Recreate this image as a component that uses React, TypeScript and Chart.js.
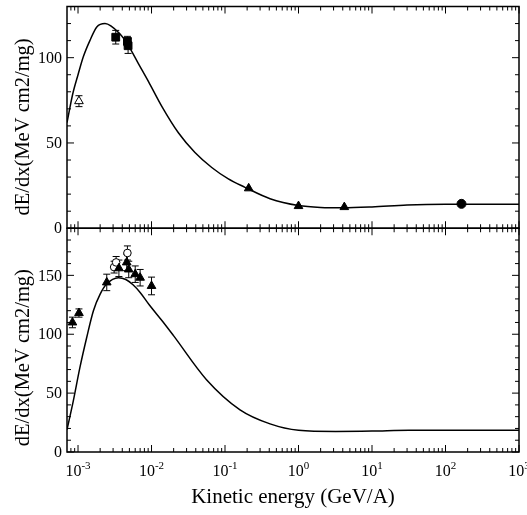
import React, { useEffect, useRef } from "react";
import { Chart, registerables } from "chart.js";
Chart.register(...registerables);

// ---------- data ----------
const xMin = 7.08e-4;
const xMax = 1000;
const yTopMax = 130;
const yBotMax = 190;
const xTickExponents = [-3, -2, -1, 0, 1, 2, 3];
const yTopLabels = [0, 50, 100];
const yBotLabels = [0, 50, 100, 150];
const xTitle = "Kinetic energy (GeV/A)";
const yTitle = "dE/dx(MeV cm2/mg)";

// top panel theory curve
const topCurveE = [7.08e-4, 8.5e-4, 1.0e-3, 1.18e-3, 1.45e-3, 1.8e-3, 2.33e-3, 3.7e-3, 4.8e-3, 6.6e-3, 9.1e-3, 1.38e-2, 2.32e-2, 3.9e-2, 6.6e-2, 0.111, 0.187, 0.41, 1.0, 2.0, 4.0, 10, 30, 100, 1000];
const topCurveV = [62, 79, 90, 100.5, 110, 118, 120, 114, 107.4, 96.7, 86, 71.5, 56, 44.4, 35.6, 28.9, 24, 17.3, 13.3, 12.2, 12, 12.5, 13.6, 14, 14];

// top panel measurements
const topOpenTriE = [1.03e-3];
const topOpenTriV = [74.5];
const topOpenTriErr = [3.2];
const topSquareE = [3.26e-3, 4.7e-3, 4.8e-3];
const topSquareV = [112, 109.5, 107];
const topSquareErr = [4, 3, 4.5];
const topTriE = [0.21, 1.0, 4.2];
const topTriV = [23.4, 13, 12.4];
const topCircleE = [165];
const topCircleV = [14.3];

// bottom panel theory curve
const botCurveE = [7.08e-4, 8.6e-4, 1.06e-3, 1.31e-3, 1.62e-3, 2.0e-3, 2.45e-3, 3.55e-3, 4.47e-3, 5.6e-3, 7.0e-3, 9.3e-3, 1.41e-2, 1.98e-2, 5.6e-2, 0.16, 0.41, 1.0, 3.2, 10, 32, 1000];
const botCurveV = [19, 43, 71.6, 97, 120, 134, 142.6, 148, 146.5, 142, 135.5, 125, 111, 99, 61.4, 35.8, 23.9, 18.5, 17.5, 17.8, 18.5, 18.5];

// bottom panel measurements
const botTriE = [8.4e-4, 1.03e-3, 2.46e-3, 3.6e-3, 4.6e-3, 4.9e-3, 6.0e-3, 7.0e-3, 1.0e-2];
const botTriV = [110, 118, 144, 156, 161, 155, 151, 148, 141];
const botTriErr = [4.5, 3.5, 7, 7, 7, 7, 7, 7, 7.5];
const botCircleE = [3.1e-3, 3.3e-3, 4.7e-3];
const botCircleV = [157, 161, 169];
const botCircleErr = [5, 5, 6];

const FONT = "'Liberation Serif', 'Times New Roman', serif";

const pts = (xs: number[], ys: number[]) => xs.map((x, i) => ({ x, y: ys[i] }));

const errorBarPlugin = {
  id: "errbars",
  beforeDatasetsDraw(chart: any) {
    const ctx = chart.ctx;
    const xs = chart.scales.x;
    chart.data.datasets.forEach((ds: any) => {
      const errs = ds.errs;
      if (!errs) return;
      const ys = chart.scales[ds.yAxisID];
      ds.data.forEach((p: any, j: number) => {
        const e = errs[j];
        if (!e) return;
        const x = xs.getPixelForValue(p.x);
        const y1 = ys.getPixelForValue(p.y - e);
        const y2 = ys.getPixelForValue(p.y + e);
        ctx.save();
        ctx.strokeStyle = "#000";
        ctx.lineWidth = 1;
        ctx.beginPath();
        ctx.moveTo(x, y1);
        ctx.lineTo(x, y2);
        ctx.moveTo(x - 3.5, y1);
        ctx.lineTo(x + 3.5, y1);
        ctx.moveTo(x - 3.5, y2);
        ctx.lineTo(x + 3.5, y2);
        ctx.stroke();
        ctx.restore();
      });
    });
  },
};

const framePlugin = {
  id: "frames",
  afterDraw(chart: any) {
    const ctx = chart.ctx;
    const xs = chart.scales.x;
    const area = chart.chartArea;
    const panels = [
      { s: chart.scales.yTop, max: yTopMax, labels: yTopLabels, titleOffset: 9.5 },
      { s: chart.scales.yBot, max: yBotMax, labels: yBotLabels, titleOffset: 17.5 },
    ];
    ctx.save();
    ctx.strokeStyle = "#000";
    ctx.fillStyle = "#000";
    panels.forEach((p) => {
      const top = p.s.top;
      const bottom = p.s.bottom;
      ctx.lineWidth = 1.5;
      ctx.strokeRect(area.left, top, area.right - area.left, bottom - top);
      ctx.lineWidth = 1;
      ctx.beginPath();
      for (let v = 0; v <= p.max; v += 10) {
        const y = p.s.getPixelForValue(v);
        const len = v % 50 === 0 ? 7 : 4;
        ctx.moveTo(area.left, y);
        ctx.lineTo(area.left + len, y);
        ctx.moveTo(area.right, y);
        ctx.lineTo(area.right - len, y);
      }
      for (let d = -4; d <= 3; d++) {
        for (let m = 1; m <= 9; m++) {
          const e = m * Math.pow(10, d);
          if (e < xMin * 0.999 || e > xMax * 1.001) continue;
          const x = xs.getPixelForValue(e);
          const len = m === 1 ? 7 : 4;
          ctx.moveTo(x, top);
          ctx.lineTo(x, top + len);
          ctx.moveTo(x, bottom);
          ctx.lineTo(x, bottom - len);
        }
      }
      ctx.stroke();
      ctx.font = `16px ${FONT}`;
      ctx.textAlign = "right";
      ctx.textBaseline = "middle";
      p.labels.forEach((v) => {
        ctx.fillText(String(v), area.left - 5, p.s.getPixelForValue(v) + 1);
      });
      ctx.save();
      ctx.translate(29, (top + bottom) / 2 + p.titleOffset);
      ctx.rotate(-Math.PI / 2);
      ctx.font = `20.5px ${FONT}`;
      ctx.textAlign = "center";
      ctx.textBaseline = "alphabetic";
      ctx.fillText(yTitle, 0, 0);
      ctx.restore();
    });
    const baseY = area.bottom + 24;
    xTickExponents.forEach((ex) => {
      const x = xs.getPixelForValue(Math.pow(10, ex));
      ctx.font = `16px ${FONT}`;
      const wBase = ctx.measureText("10").width;
      ctx.font = `11px ${FONT}`;
      const sup = String(ex);
      const wSup = ctx.measureText(sup).width;
      const start = x - (wBase + wSup) / 2;
      ctx.textAlign = "left";
      ctx.textBaseline = "alphabetic";
      ctx.font = `16px ${FONT}`;
      ctx.fillText("10", start, baseY);
      ctx.font = `11px ${FONT}`;
      ctx.fillText(sup, start + wBase, baseY - 7);
    });
    ctx.font = `21px ${FONT}`;
    ctx.textAlign = "center";
    ctx.textBaseline = "alphabetic";
    ctx.fillText(xTitle, (area.left + area.right) / 2, area.bottom + 51);
    ctx.restore();
  },
};

export default function App() {
  const ref = useRef<HTMLCanvasElement>(null);
  useEffect(() => {
    if (!ref.current) return;
    const black = "#000";
    const curve = (e: number[], v: number[], axis: string) =>
      ({
        data: pts(e, v),
        yAxisID: axis,
        showLine: true,
        borderColor: black,
        borderWidth: 1.5,
        pointRadius: 0,
        cubicInterpolationMode: "monotone",
      } as any);
    const chart = new Chart(ref.current, {
      type: "scatter",
      data: {
        datasets: [
          curve(topCurveE, topCurveV, "yTop"),
          curve(botCurveE, botCurveV, "yBot"),
          {
            data: pts(topOpenTriE, topOpenTriV),
            errs: topOpenTriErr,
            yAxisID: "yTop",
            pointStyle: "triangle",
            pointRadius: 5,
            backgroundColor: "#fff",
            borderColor: black,
            borderWidth: 1,
          } as any,
          {
            data: pts(topSquareE, topSquareV),
            errs: topSquareErr,
            yAxisID: "yTop",
            pointStyle: "rect",
            pointRadius: 5.5,
            backgroundColor: black,
            borderColor: black,
            borderWidth: 1,
          } as any,
          {
            data: pts(topTriE, topTriV),
            yAxisID: "yTop",
            pointStyle: "triangle",
            pointRadius: 5,
            backgroundColor: black,
            borderColor: black,
            borderWidth: 1,
          } as any,
          {
            data: pts(topCircleE, topCircleV),
            yAxisID: "yTop",
            pointStyle: "circle",
            pointRadius: 4.5,
            backgroundColor: black,
            borderColor: black,
            borderWidth: 1,
          } as any,
          {
            data: pts(botTriE, botTriV),
            errs: botTriErr,
            yAxisID: "yBot",
            pointStyle: "triangle",
            pointRadius: 5,
            backgroundColor: black,
            borderColor: black,
            borderWidth: 1,
          } as any,
          {
            data: pts(botCircleE, botCircleV),
            errs: botCircleErr,
            yAxisID: "yBot",
            pointStyle: "circle",
            pointRadius: 3.8,
            backgroundColor: "#fff",
            borderColor: black,
            borderWidth: 1,
          } as any,
        ],
      },
      options: {
        animation: false,
        responsive: false,
        maintainAspectRatio: false,
        layout: { padding: { left: 67, right: 8, top: 6, bottom: 63 } },
        plugins: { legend: { display: false }, tooltip: { enabled: false } },
        scales: {
          x: { type: "logarithmic", min: xMin, max: xMax, display: false },
          yBot: {
            type: "linear",
            min: 0,
            max: yBotMax,
            position: "left",
            stack: "panels",
            stackWeight: 224,
            weight: 1,
            display: false,
          },
          yTop: {
            type: "linear",
            min: 0,
            max: yTopMax,
            position: "left",
            stack: "panels",
            stackWeight: 222,
            weight: 2,
            display: false,
          },
        } as any,
      },
      plugins: [errorBarPlugin, framePlugin],
    });
    return () => chart.destroy();
  }, []);
  return (
    <div style={{ position: "fixed", left: 0, top: 0, width: 527, height: 515, background: "#fff" }}>
      <canvas ref={ref} width={527} height={515} style={{ display: "block", width: 527, height: 515 }} />
    </div>
  );
}
